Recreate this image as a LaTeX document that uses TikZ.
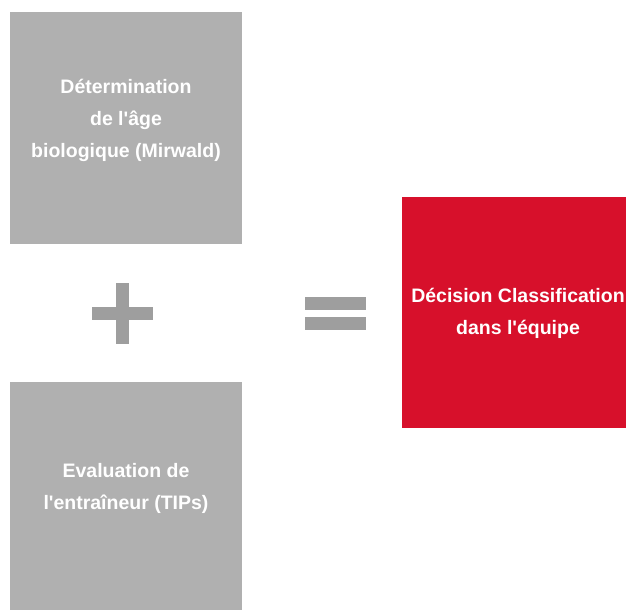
\documentclass[tikz,border=0pt]{standalone}
\usepackage{fontspec}
\setmainfont{Liberation Sans}
\usepackage{tikz}
\usetikzlibrary{positioning}
\definecolor{gris}{HTML}{B0B0B0}
\definecolor{grisfonce}{HTML}{9E9E9E}
\definecolor{rouge}{HTML}{D7102B}
\tikzstyle{boite} = [rectangle,inner sep=0pt,outer sep=0pt]
\tikzstyle{texte} = [text=white,align=center,font=\bfseries\fontsize{19.5}{32}\selectfont]

\begin{document}
\begin{tikzpicture}[x=1pt,y=-1pt]

	\useasboundingbox (0,0) rectangle (626,610);

	\node[boite,fill=gris,minimum width=232pt,minimum height=232pt] (age) at (126,128) {};
	\node[texte] (tage) at (126,120) {Détermination\\de l\textquotesingle âge\\biologique (Mirwald)};

	\node[boite,fill=gris,minimum width=232pt,minimum height=228pt] (coach) at (126,496) {};
	\node[texte] (tcoach) at (126,488) {Evaluation de\\l\textquotesingle entraîneur (TIPs)};

	\node[boite,fill=rouge,minimum width=224pt,minimum height=231pt] (dec) at (514,312.5) {};
	\node[texte] (tdec) at (518,313) {Décision Classification\\dans l\textquotesingle équipe};

	% plus
	\fill[grisfonce] (92,307) rectangle (153,320);
	\fill[grisfonce] (116,283) rectangle (129,344);

	% egal
	\fill[grisfonce] (305,297) rectangle (366,310);
	\fill[grisfonce] (305,317) rectangle (366,330);

\end{tikzpicture}
\end{document}
